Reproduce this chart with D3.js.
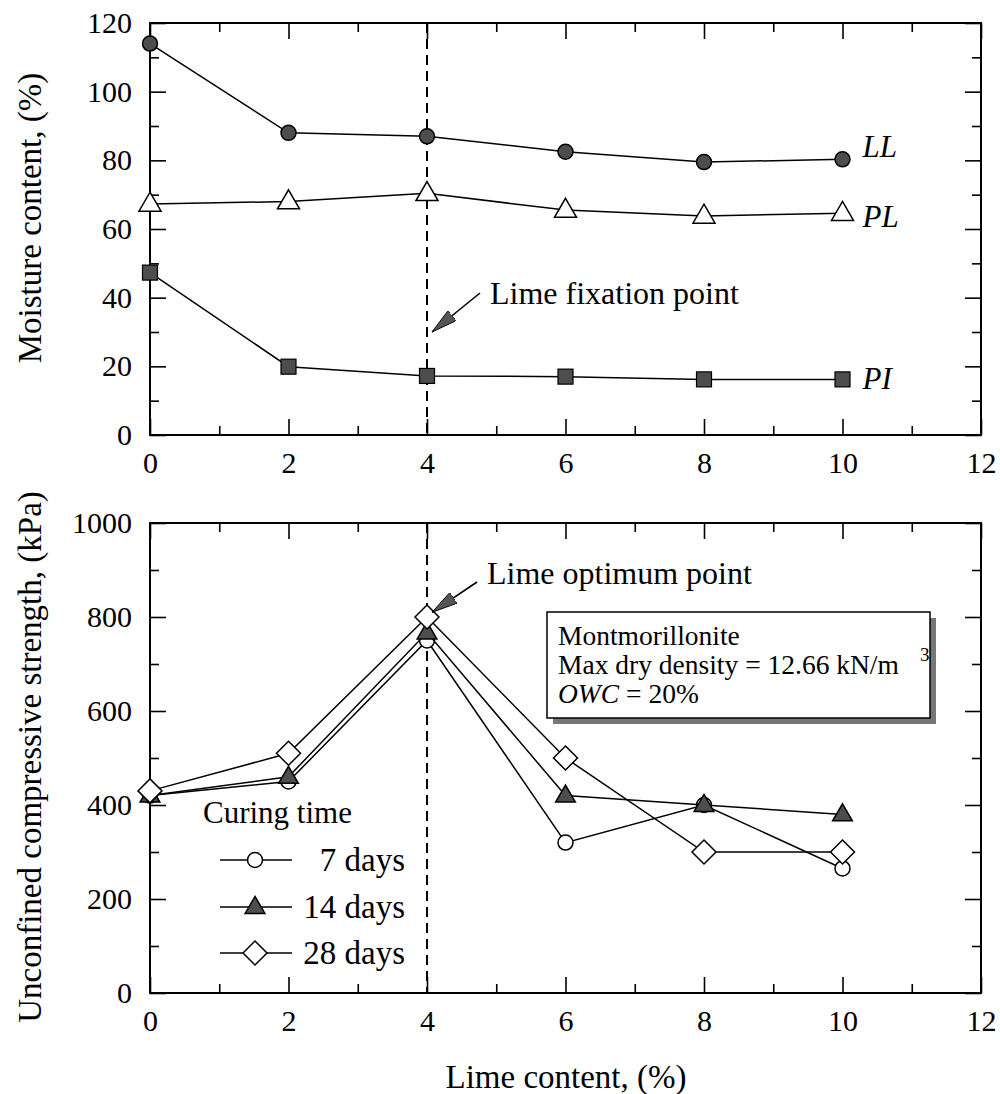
<!DOCTYPE html>
<html><head><meta charset="utf-8">
<script src="https://cdn.jsdelivr.net/npm/d3@7"></script>
<style>
html,body{margin:0;padding:0;background:#fff;}
svg{display:block;}
svg text{font-family:'Liberation Serif','Times New Roman',Tinos,'Nimbus Roman','DejaVu Serif',serif !important;}
</style></head>
<body>
<svg id="chart" width="1000" height="1094"></svg>
<script>
// ---- data ----
const limeContent = [0, 2, 4, 6, 8, 10];
const LL = [114, 88, 87, 82.5, 79.5, 80.3];
const PL = [67.3, 68, 70.4, 65.5, 63.8, 64.6];
const PI = [47.3, 19.9, 17.2, 17, 16.2, 16.2];
const ucs7 = [420, 450, 750, 320, 400, 265];
const ucs14 = [420, 460, 767, 420, 400, 380];
const ucs28 = [430, 510, 800, 500, 300, 300];
const xTicks = [0, 2, 4, 6, 8, 10, 12];
const xMinor = [1, 3, 5, 7, 9, 11];
const yTopTicks = [0, 20, 40, 60, 80, 100, 120];
const yTopMinor = [10, 30, 50, 70, 90, 110];
const yBotTicks = [0, 200, 400, 600, 800, 1000];
const yBotMinor = [100, 300, 500, 700, 900];
const limePoint = 4;
const seriesLabels = ["LL", "PL", "PI"];
const legendLabels = ["7 days", "14 days", "28 days"];

const svg = d3.select("#chart");
const X0 = 150, X1 = 981;
const x = d3.scaleLinear().domain([0, 12]).range([X0, X1]);
const yTop = d3.scaleLinear().domain([0, 120]).range([435, 23]);
const yBot = d3.scaleLinear().domain([0, 1000]).range([993, 523]);
const GRAY = "#4d4d4d";

function frame(y) {
  const [yb, yt] = y.range();
  const g = svg.append("g");
  const fmt = d3.format("d");
  const styleAxis = sel => {
    sel.attr("font-family", null);
    sel.select(".domain").remove();
    sel.selectAll(".tick line").attr("stroke", "#000").attr("stroke-width", 1.6);
    sel.selectAll(".tick text").attr("font-size", 30).attr("fill", "#000");
  };
  g.append("g").attr("transform", `translate(0,${yb})`)
    .call(d3.axisBottom(x).tickValues(xTicks).tickSize(-16).tickPadding(17).tickFormat(fmt)).call(styleAxis);
  g.append("g").attr("transform", `translate(0,${yb})`)
    .call(d3.axisBottom(x).tickValues(xMinor).tickSize(-9).tickFormat("")).call(styleAxis);
  g.append("g").attr("transform", `translate(0,${yt})`)
    .call(d3.axisTop(x).tickValues(xTicks).tickSize(-16).tickFormat("")).call(styleAxis);
  g.append("g").attr("transform", `translate(0,${yt})`)
    .call(d3.axisTop(x).tickValues(xMinor).tickSize(-9).tickFormat("")).call(styleAxis);
  const major = y === yTop ? yTopTicks : yBotTicks;
  const minor = y === yTop ? yTopMinor : yBotMinor;
  g.append("g").attr("transform", `translate(${X0},0)`)
    .call(d3.axisLeft(y).tickValues(major).tickSize(-16).tickPadding(18).tickFormat(fmt)).call(styleAxis);
  g.append("g").attr("transform", `translate(${X0},0)`)
    .call(d3.axisLeft(y).tickValues(minor).tickSize(-9).tickFormat("")).call(styleAxis);
  g.append("g").attr("transform", `translate(${X1},0)`)
    .call(d3.axisRight(y).tickValues(major).tickSize(-16).tickFormat("")).call(styleAxis);
  g.append("g").attr("transform", `translate(${X1},0)`)
    .call(d3.axisRight(y).tickValues(minor).tickSize(-9).tickFormat("")).call(styleAxis);
  g.append("rect").attr("x", X0).attr("y", yt).attr("width", X1 - X0).attr("height", yb - yt)
    .attr("fill", "none").attr("stroke", "#000").attr("stroke-width", 2);
}

[yTop, yBot].forEach(y => {
  svg.append("line").attr("x1", x(limePoint)).attr("x2", x(limePoint))
    .attr("y1", y.range()[1]).attr("y2", y.range()[0])
    .attr("stroke", "#000").attr("stroke-width", 2).attr("stroke-dasharray", "10,6");
});

frame(yTop);
frame(yBot);

const tri = (s) => `M0,${-s*0.62}L${s*0.58},${s*0.38}L${-s*0.58},${s*0.38}Z`;
function marker(g, type, cx, cy, fill, size) {
  if (type === "circle") {
    g.append("circle").attr("cx", cx).attr("cy", cy).attr("r", size)
      .attr("fill", fill).attr("stroke", "#000").attr("stroke-width", 1.5);
  } else if (type === "square") {
    g.append("rect").attr("x", cx - size).attr("y", cy - size).attr("width", 2*size).attr("height", 2*size)
      .attr("fill", fill).attr("stroke", "#000").attr("stroke-width", 1.2);
  } else if (type === "triangle") {
    g.append("path").attr("d", tri(size)).attr("transform", `translate(${cx},${cy})`)
      .attr("fill", fill).attr("stroke", "#000").attr("stroke-width", 1.5);
  } else if (type === "diamond") {
    g.append("path").attr("d", `M0,${-size}L${size},0L0,${size}L${-size},0Z`).attr("transform", `translate(${cx},${cy})`)
      .attr("fill", fill).attr("stroke", "#000").attr("stroke-width", 1.5);
  }
}
function series(y, vals, type, fill, size) {
  const g = svg.append("g");
  const line = d3.line().x((d, i) => x(limeContent[i])).y(d => y(d));
  g.append("path").attr("d", line(vals)).attr("fill", "none").attr("stroke", "#000").attr("stroke-width", 1.5);
  vals.forEach((v, i) => marker(g, type, x(limeContent[i]), y(v), fill, size));
}

series(yTop, PL, "triangle", "#fff", 19);
series(yTop, PI, "square", GRAY, 7.5);
series(yTop, LL, "circle", GRAY, 7.5);

series(yBot, ucs7, "circle", "#fff", 7.5);
series(yBot, ucs14, "triangle", GRAY, 17);
series(yBot, ucs28, "diamond", "#fff", 12);

const labOffsets = [-12, 4, 0];
[LL, PL, PI].forEach((v, i) => {
  svg.append("text").attr("x", x(10) + 20).attr("y", yTop(v[5]) + labOffsets[i] + 10)
    .attr("font-size", 31).attr("font-style", "italic").text(seriesLabels[i]);
});

svg.append("defs").append("marker").attr("id", "ah").attr("viewBox", "0 0 24 12")
  .attr("refX", 24).attr("refY", 6).attr("markerWidth", 26).attr("markerHeight", 13)
  .attr("markerUnits", "userSpaceOnUse").attr("orient", "auto")
  .append("path").attr("d", "M0,0L24,6L0,12Z").attr("fill", "#555").attr("stroke", "#000").attr("stroke-width", 0.8);

function annot(text, tx, ty, ax1, ay1, ax2, ay2) {
  svg.append("line").attr("x1", ax1).attr("y1", ay1).attr("x2", ax2).attr("y2", ay2)
    .attr("stroke", "#000").attr("stroke-width", 1.6).attr("marker-end", "url(#ah)");
  svg.append("text").attr("x", tx).attr("y", ty).attr("font-size", 32).text(text);
}
annot("Lime fixation point", 490, 304, 480, 293, x(limePoint) + 5, yTop(30));
annot("Lime optimum point", 487, 584, 477, 582, x(limePoint) + 5, yBot(810));

const bx = 547, by = 612, bw = 383, bh = 106;
svg.append("rect").attr("x", bx + 6).attr("y", by + 6).attr("width", bw).attr("height", bh).attr("fill", "#777");
svg.append("rect").attr("x", bx).attr("y", by).attr("width", bw).attr("height", bh)
  .attr("fill", "#fff").attr("stroke", "#000").attr("stroke-width", 1.5);
const bt = svg.append("g").attr("font-size", 27.5);
bt.append("text").attr("x", 558).attr("y", 645).text("Montmorillonite");
bt.append("text").attr("x", 558).attr("y", 674).text("Max dry density = 12.66 kN/m");
bt.append("text").attr("x", 920).attr("y", 661).attr("font-size", 19).text("3");
const owc = bt.append("text").attr("x", 558).attr("y", 703);
owc.append("tspan").attr("font-style", "italic").text("OWC");
owc.append("tspan").text(" = 20%");

svg.append("text").attr("x", 203).attr("y", 823).attr("font-size", 31).text("Curing time");
const legTypes = [["circle", "#fff", 7.5], ["triangle", GRAY, 17], ["diamond", "#fff", 12]];
const legY = [860, 907, 953];
legendLabels.forEach((t, i) => {
  const g = svg.append("g");
  g.append("line").attr("x1", 220).attr("x2", 292).attr("y1", legY[i]).attr("y2", legY[i])
    .attr("stroke", "#000").attr("stroke-width", 1.5);
  marker(g, legTypes[i][0], 255, legY[i], legTypes[i][1], legTypes[i][2]);
  g.append("text").attr("x", 405).attr("y", legY[i] + 11).attr("text-anchor", "end")
    .attr("font-size", 33).text(t);
});

svg.append("text").attr("transform", "translate(41,218) rotate(-90)").attr("text-anchor", "middle")
  .attr("font-size", 33).text("Moisture content, (%)");
svg.append("text").attr("transform", "translate(41,757) rotate(-90)").attr("text-anchor", "middle")
  .attr("font-size", 33).text("Unconfined compressive strength, (kPa)");
svg.append("text").attr("x", 566).attr("y", 1088).attr("text-anchor", "middle")
  .attr("font-size", 33).text("Lime content, (%)");
</script>
</body></html>
